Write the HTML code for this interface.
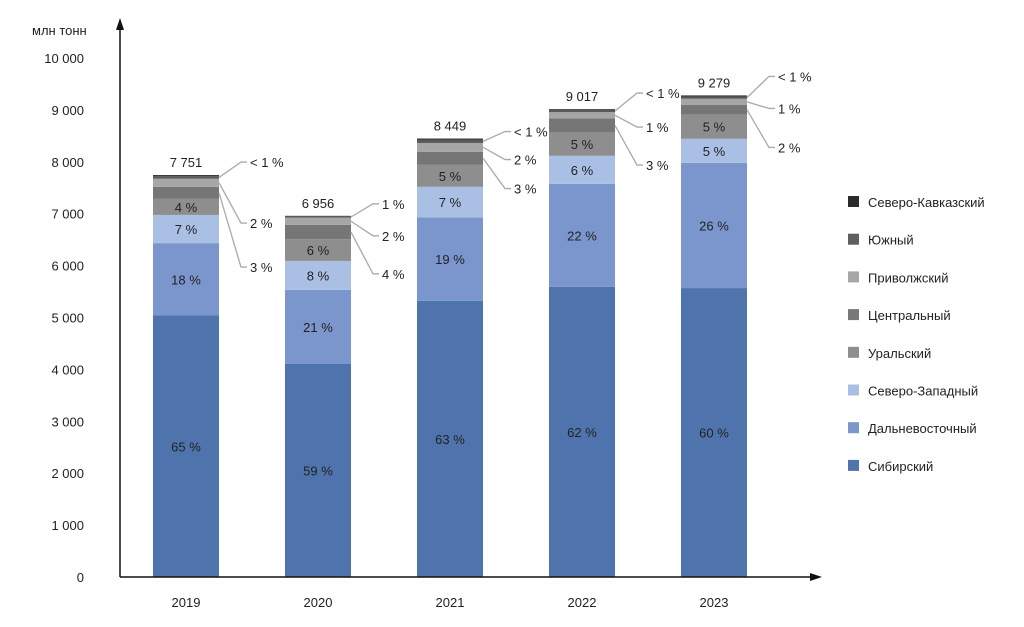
<!DOCTYPE html>
<html><head><meta charset="utf-8"><style>
body{margin:0;background:#fff;}
svg text{font-family:"Liberation Sans",sans-serif;font-size:13px;fill:#222;}
</style></head><body>
<svg id="chart" width="1024" height="622"></svg>
<script>
const years=["2019","2020","2021","2022","2023"];
const totals=["7 751","6 956","8 449","9 017","9 279"];
const regions=["Сибирский","Дальневосточный","Северо-Западный","Уральский","Центральный","Приволжский","Южный","Северо-Кавказский"];
const sib=[5038,4104,5323,5590,5567];
const dal=[1395,1430,1605,1984,2413];
const szap=[543,556,591,541,464];
const ural=[310,417,422,451,464];
const centr=[233,278,253,270,186];
const privol=[155,139,169,120,120];
const south=[50,25,60,45,45];
const skav=[20,10,25,15,20];
const pctIn=[["65 %","18 %","7 %","4 %"],["59 %","21 %","8 %","6 %"],["63 %","19 %","7 %","5 %"],["62 %","22 %","6 %","5 %"],["60 %","26 %","5 %","5 %"]];
const pctOut=[["3 %","2 %","< 1 %"],["4 %","2 %","1 %"],["3 %","2 %","< 1 %"],["3 %","1 %","< 1 %"],["2 %","1 %","< 1 %"]];
const yTicks=[0,1000,2000,3000,4000,5000,6000,7000,8000,9000,10000];
const colors=["#4f74ad","#7b96cc","#a9c0e4","#8e8e8e","#767676","#a6a6a6","#5a5a5a","#2b2b2b"];
const calloutOff=[[92,48,-13],[58,20,-12],[50,21,-7],[56,18,-16],[52,13,-19]];
const series=[sib,dal,szap,ural,centr,privol,south,skav];
const NS="http://www.w3.org/2000/svg";
const svg=document.getElementById("chart");
const y0=577,yTop=58,x0=120;
const Y=v=>y0-(v/10000)*(y0-yTop);
const X=i=>186+i*132;
const BW=66;
function el(t,a,p){const e=document.createElementNS(NS,t);for(const k in a)e.setAttribute(k,a[k]);(p||svg).appendChild(e);return e;}
function txt(s,a){const e=el("text",a);e.textContent=s;return e;}
// ticks
yTicks.forEach(v=>{const t=txt(v===0?"0":v.toLocaleString("ru-RU").replace(/\s/g," "),{x:84,y:Y(v)+5,"text-anchor":"end"});

});
const u=txt("млн тонн",{x:32,y:35});


years.forEach((yr,i)=>{
  let acc=0;const tops=[];
  series.forEach((s,k)=>{const v=s[i];const r=el("rect",{x:X(i)-BW/2,y:Y(acc+v),width:BW,height:Y(acc)-Y(acc+v),fill:colors[k]});
    
    
    tops.push([Y(acc+v),Y(acc)]);
    if(k<4){const t=txt(pctIn[i][k],{x:X(i),y:(Y(acc)+Y(acc+v))/2+5,"text-anchor":"middle",fill:k===2?"#eef2fa":"#e3e9f5"});
      
      }
    acc+=v;});
  const topY=Y(acc);
  const tl=txt(totals[i],{x:X(i),y:topY-8,"text-anchor":"middle"});
  
  
  [4,5,6].forEach((k,j)=>{const my=(tops[k][0]+tops[k][1])/2;const ly=topY+calloutOff[i][j];const xr=X(i)+BW/2;
    const l=el("polyline",{points:`${xr},${my} ${xr+22},${ly} ${xr+28},${ly}`,fill:"none",stroke:"#aaa","stroke-width":1.3});
    
    
    const t=txt(pctOut[i][j],{x:xr+31,y:ly+5});
    
    });
  const xl=txt(yr,{x:X(i),y:607,"text-anchor":"middle"});
  
  
});
const ax=el("path",{d:`M${x0},${y0} L${x0},26 M${x0},${y0} L812,${y0}`,stroke:"#111","stroke-width":1.5,fill:"none"});


const ar=el("path",{d:`M${x0-4},30 L${x0},18 L${x0+4},30 Z M810,${y0-4} L822,${y0} L810,${y0+4} Z`,fill:"#111"});


// legend (top to bottom reversed)
const lgColors=["#2b2b2b","#5f5f5f","#a6a6a6","#787878","#8e8e8e","#a9c0e4","#7b96cc","#4f74ad"];
regions.slice().reverse().forEach((r,j)=>{const y=202+j*37.7;
  const s=el("rect",{x:848,y:y-6,width:11,height:11,fill:lgColors[j]});
  
  
  const t=txt(r,{x:868,y:y+5});
  
  });
</script>
</body></html>
